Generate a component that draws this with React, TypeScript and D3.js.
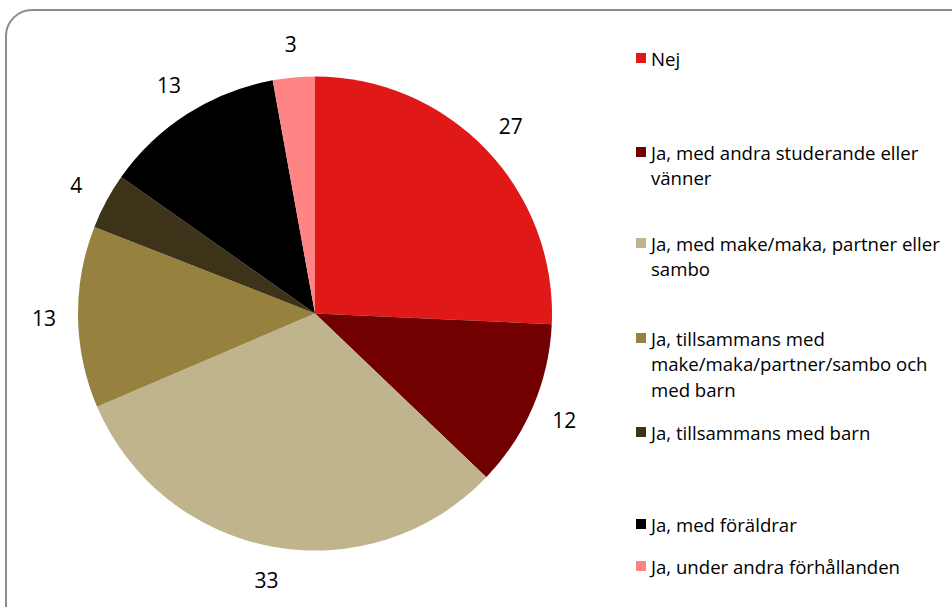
import React, {useEffect, useRef} from 'react';
import * as d3 from 'd3';

// legend text, already split the way the original wraps it
const legendLines: string[][] = [
    ['Nej'],
    ['Ja, med andra studerande eller', 'vänner'],
    ['Ja, med make/maka, partner eller', 'sambo'],
    ['Ja, tillsammans med', 'make/maka/partner/sambo och', 'med barn'],
    ['Ja, tillsammans med barn'],
    ['Ja, med föräldrar'],
    ['Ja, under andra förhållanden']
]

const categories = legendLines.map(l => l.join(' '))

const values = [27, 12, 33, 13, 4, 13, 3]

const colors = ['#e01818', '#720000', '#c0b48d', '#97813f', '#3d3319', '#000000', '#ff8585']

const App = () => {

    const svgRef = useRef<SVGSVGElement>(null);

    const width = 952
    const height = 607

    const cx = 315
    const cy = 313.5
    const radius = 237
    const labelRadius = 271

    // vertical centre of each legend entry's first line
    const legendY = [58, 152, 243, 338, 432, 524, 566]
    const legendX = 636
    const lineHeight = 25.5

    useEffect(() => {

        const svg = d3.select(svgRef.current)
        svg.selectAll('*').remove()

        svg.append('rect')
            .attr('x', 6)
            .attr('y', 10)
            .attr('width', 970)
            .attr('height', 630)
            .attr('rx', 26)
            .attr('fill', '#ffffff')
            .attr('stroke', '#8c8c8c')
            .attr('stroke-width', 2)

        const data = categories.map((c, i) => ({name: c, value: values[i], color: colors[i]}))

        const pie = d3.pie<any>()
            .value(d => d.value)
            .sort(null)

        const arcs = pie(data)

        const arc = d3.arc<any>()
            .innerRadius(0)
            .outerRadius(radius)

        const labelArc = d3.arc<any>()
            .innerRadius(labelRadius)
            .outerRadius(labelRadius)

        const g = svg.append('g')
            .attr('transform', `translate(${cx}, ${cy})`)

        g.selectAll('path')
            .data(arcs)
            .join('path')
            .attr('d', arc)
            .attr('fill', d => d.data.color)

        g.selectAll('text')
            .data(arcs)
            .join('text')
            .attr('x', d => labelArc.centroid(d)[0])
            .attr('y', d => labelArc.centroid(d)[1])
            .attr('text-anchor', 'middle')
            .attr('dominant-baseline', 'central')
            .attr('fill', '#000')
            .style('font-family', '"Open Sans", sans-serif')
            .style('font-size', '21px')
            .text(d => d.data.value)

        const legend = svg.append('g')

        const items = legend.selectAll('g')
            .data(data)
            .join('g')
            .attr('transform', (d, i) => `translate(${legendX}, ${legendY[i]})`)

        items.append('rect')
            .attr('x', 0)
            .attr('y', -5)
            .attr('width', 10)
            .attr('height', 10)
            .attr('fill', d => d.color)

        items.append('text')
            .attr('x', 15)
            .attr('y', 0)
            .style('font-family', '"Open Sans", sans-serif')
            .style('font-size', '18.6px')
            .attr('fill', '#000')
            .selectAll('tspan')
            .data((d, i) => legendLines[i])
            .join('tspan')
            .attr('x', 15)
            .attr('y', (d, j) => j * lineHeight)
            .attr('dominant-baseline', 'central')
            .text(d => d)

    }, [])

    return (
        <svg ref={svgRef} width={width} height={height}
            style={{position: 'absolute', left: 0, top: 0, display: 'block'}} />
    );
}

export default App;
